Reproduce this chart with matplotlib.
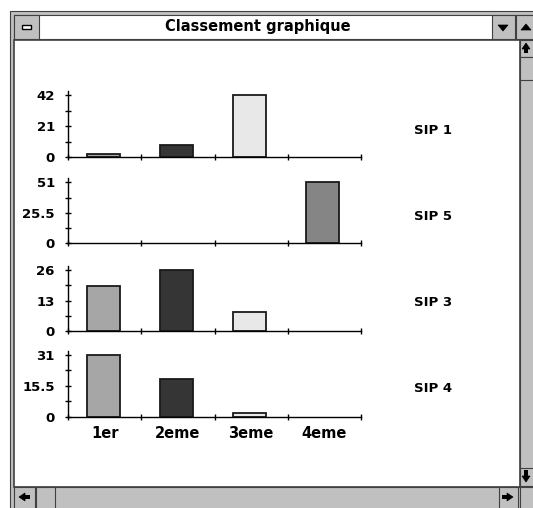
import matplotlib
matplotlib.use("Agg")
import matplotlib.pyplot as plt
from matplotlib.patches import Rectangle, Polygon

# data
categories = ['1er', '2eme', '3eme', '4eme']
sip_names = ['SIP 1', 'SIP 5', 'SIP 3', 'SIP 4']
sip1 = [2, 8, 42, 0]
sip5 = [0, 0, 0, 51]
sip3 = [19, 26, 8, 0]
sip4 = [31, 19, 2, 0]
series = [sip1, sip5, sip3, sip4]
bar_colors = ['#a6a6a6', '#353535', '#e8e8e8', '#858585']

W, H = 533, 508
fig = plt.figure(figsize=(W / 100, H / 100), dpi=100)
fig.patch.set_facecolor('white')

# ---- window chrome, drawn in pixel coords ----
bg = fig.add_axes([0, 0, 1, 1])
bg.set_xlim(0, W)
bg.set_ylim(H, 0)
bg.axis('off')

grey = '#c0c0c0'
dark = '#404040'

def box(x0, y0, x1, y1, fc=grey, ec=dark, lw=0.8):
    bg.add_patch(Rectangle((x0, y0), x1 - x0, y1 - y0, facecolor=fc,
                           edgecolor=ec, linewidth=lw))

def tri(pts):
    bg.add_patch(Polygon(pts, closed=True, facecolor='black', edgecolor='black', linewidth=0.5))

box(10, 11, W + 2, H + 2)                 # frame
box(14, 15, W + 2, 39, fc='white')        # title bar
box(14, 15, 39, 39)                       # system menu
box(22, 25, 31, 29, fc='white', ec='black', lw=1.0)
box(492, 15, 515, 39)                     # minimise
tri([(498, 25), (508, 25), (503, 31)])
box(516, 15, W + 2, 39)                   # maximise
tri([(521, 30), (531, 30), (526, 24)])
bg.text(258, 27, 'Classement graphique', ha='center', va='center',
        fontsize=10.5, fontweight='bold', family='DejaVu Sans')
box(14, 40, 520, 487, fc='white', lw=1.2)  # client area
box(520, 40, W + 2, 487)                  # vertical scrollbar
box(520, 40, W + 2, 57)
tri([(522, 49), (530, 49), (526, 43)])
bg.add_patch(Rectangle((524, 47), 4, 6, facecolor='black'))
box(520, 57, W + 2, 80)
box(520, 468, W + 2, 486)
tri([(522, 476), (530, 476), (526, 482)])
bg.add_patch(Rectangle((524, 470), 4, 6, facecolor='black'))
box(14, 487, 520, H + 2)                  # horizontal scrollbar
box(14, 487, 35, H + 2)
tri([(19, 497), (25, 493), (25, 501)])
bg.add_patch(Rectangle((24, 495), 6, 4, facecolor='black'))
box(36, 487, 55, H + 2)
box(499, 487, 518, H + 2)
tri([(513, 497), (507, 493), (507, 501)])
bg.add_patch(Rectangle((502, 495), 6, 4, facecolor='black'))
box(520, 487, W + 2, H + 2)

# ---- the four bar panels ----
left_px, right_px = 68, 361
baselines = [157, 243.3, 331, 416.7]
tops = [95, 182.3, 270, 355]
label_y = [130, 216, 302, 388]

for i, vals in enumerate(series):
    vmax = max(vals)
    span = baselines[i] - tops[i]
    ax_top = tops[i] - 4
    ax = fig.add_axes([left_px / W, 1 - baselines[i] / H,
                       (right_px - left_px) / W, (baselines[i] - ax_top) / H])
    ax.set_facecolor('none')
    x = list(range(len(categories)))
    # empty categories get no bar at all
    xs = [c - 0.02 for c, v in zip(x, vals) if v > 0]
    hs = [v for v in vals if v > 0]
    cs = [col for col, v in zip(bar_colors, vals) if v > 0]
    ax.bar(xs, hs, width=0.45, color=cs,
           edgecolor='#1a1a1a', linewidth=1.3, zorder=3)
    ax.set_xlim(-0.5, 3.5)
    ax.set_ylim(0, vmax * (baselines[i] - ax_top) / span)
    for s in ['top', 'right']:
        ax.spines[s].set_visible(False)
    ax.spines['left'].set_linewidth(1.0)
    ax.spines['bottom'].set_linewidth(1.0)
    ax.spines['bottom'].set_zorder(4)

    half = vmax / 2
    ax.set_yticks([0, half, vmax])
    ax.set_yticklabels(['0', f'{half:g}', f'{vmax:g}'])
    ax.set_yticks([vmax / 4, vmax * 3 / 4], minor=True)
    ax.tick_params(axis='y', which='major', direction='inout', length=5,
                   width=1, pad=7, labelsize=9.5)
    ax.tick_params(axis='y', which='minor', direction='inout', length=4, width=1)

    ax.set_xticks([-0.5, 0.5, 1.5, 2.5, 3.5])
    ax.set_xticklabels([])
    ax.tick_params(axis='x', which='major', direction='inout', length=5, width=1)
    if i == len(series) - 1:
        ax.set_xticks(x, minor=True)
        ax.set_xticklabels(categories, minor=True)
        ax.tick_params(axis='x', which='minor', length=0, pad=7, labelsize=10.5)
    for t in ax.get_yticklabels() + ax.get_xticklabels(minor=True):
        t.set_fontweight('bold')

    fig.text(414 / W, 1 - label_y[i] / H, sip_names[i], ha='left', va='center',
             fontsize=9.5, fontweight='bold')

fig.savefig('out.png', dpi=100)
